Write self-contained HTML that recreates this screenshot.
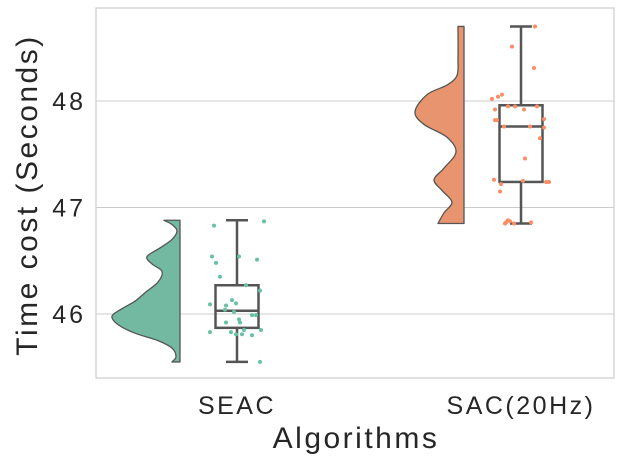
<!DOCTYPE html>
<html><head><meta charset="utf-8"><style>
body{margin:0;background:#fff;}
svg{display:block;font-family:"Liberation Sans","DejaVu Sans",sans-serif;}
</style></head><body>
<svg id="chart" width="626" height="466"></svg>
<script>
const categories=["SEAC","SAC(20Hz)"];
const yTicks=[46,47,48];
const seacPoints=[46.83,46.87,46.54,46.48,46.54,46.51,46.35,46.27,46.22,46.13,46.10,46.09,46.08,46.04,46.02,45.99,45.99,45.95,45.92,45.92,45.85,45.85,45.83,45.83,45.81,45.81,45.80,45.55];
const seacJitter=[-23,27,-25,-21,2,20,-17,9,23,-5,-1,-27,-11,-12,-3,15,19,2,3,-11,7,24,-27,-6,-1,5,15,23];
const sacPoints=[48.70,48.51,48.31,48.02,48.04,48.06,47.95,47.95,47.95,47.92,47.92,47.82,47.82,47.83,47.76,47.76,47.75,47.65,47.46,47.26,47.25,47.24,47.24,47.22,47.15,46.88,46.86,46.87,46.85,46.85,46.86];
const sacJitter=[14,-9,13,-29,-23,-19,-13,-6,16,-26,3,-24,-26,23,-17,9,23,19,4,-27,2,25,28,-20,-21,-13,-15,-11,-16,-7,10];
const seacBox={lo:45.55,q1:45.87,med:46.03,q3:46.27,hi:46.88};
const sacBox={lo:46.85,q1:47.24,med:47.76,q3:47.96,hi:48.70};
const seacKdeV=[46.88,46.84,46.78,46.70,46.62,46.54,46.47,46.40,46.30,46.20,46.12,46.05,45.98,45.90,45.82,45.75,45.68,45.60,45.55];
const seacKdeD=[16,8,3,8,20,33,28,18,22,35,45,58,68,62,45,22,8,4,8];
const sacKdeV=[48.70,48.40,48.24,48.15,48.06,47.90,47.78,47.66,47.52,47.37,47.26,47.16,47.05,46.95,46.85];
const sacKdeD=[6,6,7,17,37,49,40,17,8,20,30,22,12,20,26];

const NS="http://www.w3.org/2000/svg";
const svg=document.getElementById('chart');
const L=96,R=614,T=8,B=378;
const y=v=>314-(v-46)*106.5;
const xc=i=>[237,521][i];
function mk(tag,attrs,parent){const e=document.createElementNS(NS,tag);for(const k in attrs)e.setAttribute(k,attrs[k]);(parent||svg).appendChild(e);return e;}
function smooth(P){let d='';for(let i=0;i<P.length-1;i++){const p0=P[Math.max(i-1,0)],p1=P[i],p2=P[i+1],p3=P[Math.min(i+2,P.length-1)];
  const c1=[p1[0]+(p2[0]-p0[0])/6,p1[1]+(p2[1]-p0[1])/6],c2=[p2[0]-(p3[0]-p1[0])/6,p2[1]-(p3[1]-p1[1])/6];
  d+=' C'+c1[0]+','+c1[1]+' '+c2[0]+','+c2[1]+' '+p2[0]+','+p2[1];}return d;}
yTicks.forEach(t=>{
  const g=mk('line',{x1:L,x2:R,y1:y(t),y2:y(t),stroke:'#cccccc','stroke-width':1});
  
  
  const tx=mk('text',{x:86,y:y(t)+9,'text-anchor':'end','font-size':25,'letter-spacing':3,fill:'#262626'});
  tx.textContent=t;
  
  
});
const frame=mk('rect',{x:L,y:T,width:R-L,height:B-T,fill:'none',stroke:'#cccccc','stroke-width':1.2});


const fills=['#73b8a1','#e8956f'],pts=['#66c2a5','#fc8d62'];
const groups=[[seacKdeV,seacKdeD,seacBox,seacPoints,seacJitter],[sacKdeV,sacKdeD,sacBox,sacPoints,sacJitter]];
groups.forEach((g,i)=>{
  const [kv,kd,bx,pv,pj]=g;const c=xc(i);const edge=c-57;
  const P=kv.map((v,j)=>[edge-kd[j],y(v)]);
  let d='M'+edge+','+y(kv[0])+' L'+P[0][0]+','+P[0][1]+smooth(P)+' L'+edge+','+y(kv[kv.length-1])+' Z';
  const vp=mk('path',{d:d,fill:fills[i],stroke:'#555','stroke-width':1.3,'stroke-linejoin':'round'});
  
  
  const st={stroke:'#555','stroke-width':2.5,fill:'none'};
  const w1=mk('line',Object.assign({x1:c,x2:c,y1:y(bx.hi),y2:y(bx.q3)},st));
  
  const w2=mk('line',Object.assign({x1:c,x2:c,y1:y(bx.q1),y2:y(bx.lo)},st));
  
  [bx.hi,bx.lo].forEach(v=>{const cp=mk('line',Object.assign({x1:c-11,x2:c+11,y1:y(v),y2:y(v)},st));
    });
  const rb=mk('rect',Object.assign({x:c-21.5,width:43,y:y(bx.q3),height:y(bx.q1)-y(bx.q3)},st));
  
  const md=mk('line',Object.assign({x1:c-21.5,x2:c+21.5,y1:y(bx.med),y2:y(bx.med)},st));
  
  pv.forEach((v,j)=>{const p=mk('circle',{cx:c+pj[j],cy:y(v),r:2,fill:pts[i]});
    });
  const lb=mk('text',{x:c,y:414,'text-anchor':'middle','font-size':25,'letter-spacing':2.5,fill:'#262626'});
  lb.textContent=categories[i];
  
});
const xt=mk('text',{x:356,y:448,'text-anchor':'middle','font-size':30,'letter-spacing':2.5,fill:'#262626'});
xt.textContent='Algorithms';

const yt=mk('text',{x:0,y:0,'text-anchor':'middle','font-size':30,'letter-spacing':2.5,fill:'#262626',transform:'translate(37,195) rotate(-90)'});
yt.textContent='Time cost (Seconds)';

</script>
</body></html>
